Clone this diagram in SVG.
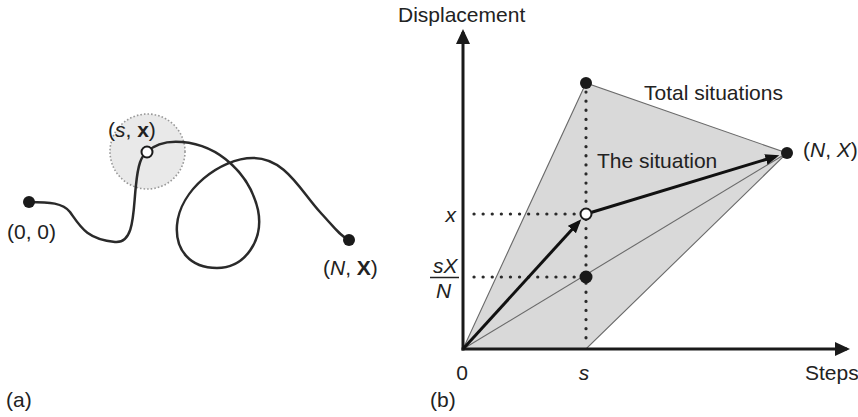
<svg xmlns="http://www.w3.org/2000/svg" width="858" height="417" viewBox="0 0 858 417">
<style>
text{font-family:"Liberation Sans",Arial,sans-serif;font-size:21px;fill:#222}
.it{font-style:italic}
.bd{font-weight:bold}
.dot{fill:#1a1a1a}
.open{fill:#fff;stroke:#1a1a1a;stroke-width:2}
.dotted{fill:none;stroke:#2a2a2a;stroke-width:3.2;stroke-dasharray:0.1 9;stroke-linecap:round}
.thin{fill:none;stroke:#6a6a6a;stroke-width:1.1}
.axis{fill:none;stroke:#1a1a1a;stroke-width:3}
.thick{fill:none;stroke:#111;stroke-width:3}
</style>
<defs>
<marker id="axhead" markerUnits="userSpaceOnUse" markerWidth="16" markerHeight="14" refX="12" refY="7" orient="auto" viewBox="0 0 16 14">
<path d="M0,0 L15,7 L0,14 z" fill="#1a1a1a"/>
</marker>
<marker id="arhead" markerUnits="userSpaceOnUse" markerWidth="15" markerHeight="12" refX="10" refY="5.5" orient="auto" viewBox="0 0 15 12">
<path d="M0,0 L14,5.5 L0,11 z" fill="#111"/>
</marker>
</defs>
<rect width="858" height="417" fill="#fff"/>

<!-- (a) random walk -->
<g id="neighbourhood">
<circle cx="147.5" cy="151.5" r="37.5" fill="#e9e9e9" stroke="#999" stroke-width="1.6" stroke-dasharray="1.6 2"/>
</g>
<g id="connectors-a">
<path d="M29,202 C50,202 63,203 70,212 C80,226 86,239 115,242 C135,244 133,210 136,185 C138,165 141,156 147,152 C156,143 170,141 182,142 C220,145 250,175 258,210 C264,240 245,268 217,268 C190,268 175,250 177,225 C180,190 220,158 253,158 C285,158 300,190 320,212 C333,226 340,236 349,240" fill="none" stroke="#2a2a2a" stroke-width="2.5"/>
</g>
<g id="start">
<circle class="dot" cx="29" cy="202" r="6"/>
<text x="7" y="239">(0, 0)</text>
</g>
<g id="mid">
<circle class="open" cx="147" cy="152" r="5.5"/>
<text x="108" y="137">(<tspan class="it">s</tspan>, <tspan class="bd">x</tspan>)</text>
</g>
<g id="end">
<circle class="dot" cx="349" cy="240" r="6"/>
<text x="323" y="275">(<tspan class="it">N</tspan>, <tspan class="bd">X</tspan>)</text>
</g>
<text x="6" y="407">(a)</text>

<!-- (b) graph -->
<g id="region">
<polygon points="463,349 586,83 787,153 586,349" fill="#d9d9d9" stroke="#6a6a6a" stroke-width="1.1"/>
<line class="thin" x1="463" y1="349" x2="787" y2="153"/>
</g>
<g id="connectors-b">
<line class="dotted" x1="586" y1="92" x2="586" y2="346"/>
<line class="dotted" x1="474" y1="214" x2="580" y2="214"/>
<line class="dotted" x1="474" y1="277" x2="580" y2="277"/>
<line class="axis" x1="463" y1="350.5" x2="463" y2="32" marker-end="url(#axhead)"/>
<line class="axis" x1="461.5" y1="349" x2="847" y2="349" marker-end="url(#axhead)"/>
<line class="thick" x1="463" y1="349" x2="578.6" y2="222.2" marker-end="url(#arhead)"/>
<line class="thick" x1="586" y1="214" x2="775.5" y2="156.5" marker-end="url(#arhead)"/>
</g>
<g id="top-point"><circle class="dot" cx="586" cy="83" r="6"/></g>
<g id="NX-point">
<circle class="dot" cx="787" cy="153" r="6"/>
<text x="803" y="157" font-size="20">(<tspan class="it">N</tspan>, <tspan class="it">X</tspan>)</text>
</g>
<g id="mean-point"><circle class="dot" cx="586" cy="277" r="6.5"/></g>
<g id="situation-point"><circle class="open" cx="586" cy="214" r="5.5"/></g>
<g id="labels-b">
<text x="398" y="22">Displacement</text>
<text x="644" y="100">Total situations</text>
<text x="597" y="168">The situation</text>
<text class="it" x="456" y="222" text-anchor="end">x</text>
<text class="it" x="433" y="273">sX</text>
<line x1="430" y1="277.5" x2="459" y2="277.5" stroke="#222" stroke-width="1.5"/>
<text class="it" x="436" y="298">N</text>
<text x="462" y="380" text-anchor="middle">0</text>
<text class="it" x="584" y="380" text-anchor="middle">s</text>
<text x="805" y="380">Steps</text>
<text x="430" y="407">(b)</text>
</g>
</svg>
